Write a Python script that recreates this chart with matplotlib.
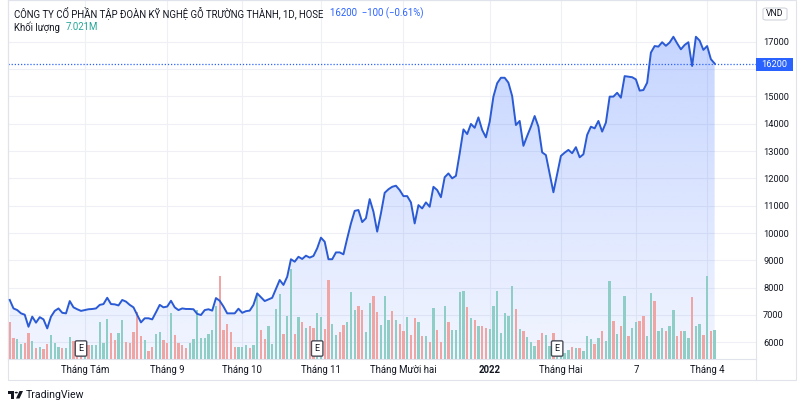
import numpy as np
import matplotlib.pyplot as plt
from matplotlib.patches import Rectangle, FancyBboxPatch, Polygon, Circle
from matplotlib.transforms import blended_transform_factory

plt.rcParams['font.family'] = ['Roboto', 'DejaVu Sans']

W, H = 800, 408

# giá đóng cửa hằng ngày (VND)
price = [
    7550, 7240, 7180, 7060, 7010, 6570, 6940, 6720, 6920, 6840,
    6510, 6940, 7150, 7240, 7080, 7060, 7510, 7280, 7210, 7150,
    7180, 7210, 7220, 7240, 7370, 7400, 7630, 7400, 7390, 7350,
    7550, 7490, 7370, 7280, 7000, 6730, 6880, 6880, 6840, 7100,
    7370, 7280, 7310, 7520, 7280, 7180, 7240, 7220, 7220, 7210,
    7040, 7000, 7180, 7210, 7160, 7620, 7520, 7310, 7060, 7060,
    7060, 7230, 7080, 7140, 7160,
    7370, 7790, 7650, 7510, 7570, 7630, 7950, 8280, 8100, 8400,
    9040, 8950, 9130, 9050, 9170, 9100, 9160, 9440, 9830, 9680,
    9040, 9040, 9290, 9290, 9220, 9800, 10350, 10810, 10840, 10400,
    10540, 11240, 10780, 10050, 10720, 11470, 11600, 11690, 11730, 11570,
    11350, 11350, 11120, 10350, 11020, 10900, 11120, 10960, 11690, 11570,
    11310, 12040, 12180, 12000, 12090, 12910, 13790, 13620, 13990, 13850,
    14230, 13770, 13500, 14070,
    14990, 15480, 15680, 15680, 15500, 15010, 13950, 14100, 13190, 13550,
    13890, 14280, 13890, 12950, 12850, 12180, 11490, 12160, 12820, 12940,
    13040, 12920, 13140, 12770, 12880, 13590, 13890, 13830, 14100, 13710,
    14040, 14990, 14990, 15130, 14950, 15740, 15720, 15700, 15620, 15210,
    15230, 15500, 16600, 16840, 16820, 16980, 16850, 16970, 17180, 16940,
    16720, 16880, 16980, 16110, 17180, 17040, 16700, 16840, 16360, 16200,
]

# khối lượng (triệu cổ phiếu)
volume = [
    8.9, 5.0, 4.8, 3.6, 3.8, 6.2, 4.3, 2.6, 2.9, 2.4,
    3.6, 5.8, 3.8, 2.9, 2.6, 2.6, 5.3, 4.3, 3.8, 2.9,
    2.9, 3.4, 3.4, 3.4, 8.9, 3.8, 9.6, 6.2, 4.6, 6.2,
    9.4, 4.1, 3.8, 6.5, 11.3, 5.5, 4.6, 1.9, 2.9, 6.0,
    6.5, 4.6, 3.8, 11.0, 5.8, 3.8, 3.4, 2.6, 3.8, 4.8,
    11.8, 5.0, 5.0, 6.0, 7.0, 12.7, 19.9, 7.0, 8.4, 6.5,
    2.9, 2.9, 2.9, 3.4, 2.6,
    3.4, 15.8, 7.0, 4.8, 7.9, 3.6, 12.0, 15.6, 6.0, 10.3,
    21.6, 6.0, 10.1, 8.9, 7.4, 7.9, 7.4, 11.0, 10.1, 7.2,
    19.0, 8.4, 5.8, 6.5, 8.2, 8.9, 16.1, 11.8, 12.7, 11.8,
    6.5, 13.4, 15.1, 11.3, 8.2, 15.1, 9.4, 11.5, 9.4, 8.4,
    6.7, 10.1, 5.8, 9.8, 8.9, 5.5, 5.5, 4.1, 12.2, 7.0,
    4.1, 12.7, 8.9, 7.0, 7.0, 16.1, 16.3, 12.5, 9.8, 9.4,
    7.9, 7.9, 7.4, 7.2,
    12.7, 16.3, 6.2, 11.0, 10.3, 17.5, 12.0, 7.2, 6.7, 5.3,
    4.1, 3.1, 4.6, 6.2, 5.8, 3.1, 6.2, 2.2, 1.0, 1.4,
    2.2, 2.9, 2.6, 2.6, 1.9, 5.5, 4.8, 3.6, 5.0, 6.7,
    4.3, 18.7, 9.1, 6.0, 7.9, 15.1, 5.5, 7.4, 8.9, 9.1,
    10.3, 5.5, 15.8, 13.9, 6.7, 7.4, 6.7, 7.9, 11.8, 5.5,
    6.7, 6.7, 5.0, 14.9, 7.9, 8.4, 5.8, 19.9, 6.7, 7.02,
]

# g = phiên tăng, r = phiên giảm
vol_dir = (
    "rrggrrgrgr" "rgggrggrrr" "grgggggrrg" "grrrrrgrrg" "grrgrrrrgg"
    "ggggggrrrr" "rgggr"
    "ggrrggggrg" "grgrgrrggr" "rggrrgggrr" "ggrrgggrgr" "rgrrgrgrgr"
    "rgrggggrgr" "grrg"
    "ggggggrgrg" "ggrrggrggg" "grgrgggrgr" "ggrgrgrggr" "rggrggrggr"
    "rggrggrgrg"
)

tick_idx = [20, 42, 62, 83, 105, 128, 147, 167, 186]
tick_labels = ['Tháng Tám', 'Tháng 9', 'Tháng 10', 'Tháng 11', 'Tháng Mười hai',
               '2022', 'Tháng Hai', '7', 'Tháng 4']
price_ticks = [6000, 7000, 8000, 9000, 10000, 11000, 12000,
               13000, 14000, 15000, 16000, 17000]
earnings_idx = [19, 82, 146]
last_price = 16200
last_volume = '7.021M'


def fx(px):
    return px / W


def fy(py):
    return 1 - py / H


fig = plt.figure(figsize=(W / 100, H / 100), dpi=100)
fig.patch.set_facecolor('white')

rect = [fx(7.5), fy(359), fx(755.5) - fx(7.5), 359 / H]
ax = fig.add_axes(rect, zorder=1)
axv = fig.add_axes(rect, zorder=2)
axv.patch.set_visible(False)

x = np.arange(len(price))
xlim = (-0.6, 198.9)
ylim = (5390, 18525)

# vùng tô gradient dưới đường giá
poly = ax.fill_between(x, price, ylim[0], color='none', lw=0)
grad = np.zeros((256, 1, 4))
grad[..., 0] = 41 / 255
grad[..., 1] = 98 / 255
grad[..., 2] = 1.0
grad[:, 0, 3] = np.linspace(0.27, 0.06, 256)
img = ax.imshow(grad, extent=[x[0], x[-1], ylim[0], max(price)],
                aspect='auto', origin='upper', zorder=1, interpolation='bilinear')
img.set_clip_path(poly.get_paths()[0], transform=ax.transData)

ax.axhline(last_price, color='#2962ff', lw=0.9, ls=(0, (1, 1.5)), zorder=3)

ax.set_xlim(*xlim)
ax.set_ylim(*ylim)
ax.set_xticks(tick_idx)
ax.set_xticklabels(tick_labels)
ax.set_yticks(price_ticks)
# nhãn 16000 bị ô giá cuối che khuất
ax.set_yticklabels(['' if abs(p - last_price) < 500 else str(p) for p in price_ticks])
ax.yaxis.tick_right()
ax.tick_params(axis='y', length=0, pad=5.5, labelsize=6.7, labelcolor='#131722')
ax.tick_params(axis='x', length=0, pad=4, labelsize=6.9, labelcolor='#131722')
ax.get_xticklabels()[5].set_fontweight('bold')
ax.grid(True, color='#eef0f5', lw=0.8)
ax.set_axisbelow(True)
for s in ax.spines.values():
    s.set_color('#e0e3eb')
    s.set_linewidth(0.8)

# khối lượng
colors = ['#8ecec6' if d == 'g' else '#eea5a4' for d in vol_dir]
axv.bar(x, volume, width=0.62, color=colors, zorder=2)
axv.plot(x, price, color='#2a5ad4', lw=1.4, transform=ax.transData, zorder=4,
         solid_joinstyle='round')
axv.set_xlim(*xlim)
axv.set_ylim(0, 86)
axv.axis('off')

tr = blended_transform_factory(ax.transData, ax.transAxes)
for i in earnings_idx:
    axv.text(i, 10.5 / 359, 'E', transform=tr, ha='center', va='center',
             fontsize=6.5, color='#131722', zorder=6,
             bbox=dict(boxstyle='round,pad=0.35,rounding_size=0.15', fc='white',
                       ec='#4a4d57', lw=1))

# khung tiện ích
fig.patches.append(Rectangle((fx(7.5), fy(380)), fx(795.5) - fx(7.5), 380 / H,
                             transform=fig.transFigure, fill=False,
                             ec='#e0e3eb', lw=0.8))
fig.lines.append(plt.Line2D([fx(755.5), fx(755.5)], [fy(359), fy(380)],
                            transform=fig.transFigure, color='#e0e3eb', lw=0.8))

# nhãn giá cuối
fig.patches.append(Rectangle((fx(755.5), fy(71)), fx(793) - fx(755.5), 13.5 / H,
                             transform=fig.transFigure, fc='#2962ff', ec='none'))
fig.text(fx(774), fy(64.5), str(last_price), color='white', fontsize=6.7,
         ha='center', va='center')

# nhãn đơn vị
fig.patches.append(FancyBboxPatch((fx(763), fy(20)), fx(787) - fx(763), 12 / H,
                                  boxstyle='round,pad=0,rounding_size=0.004',
                                  transform=fig.transFigure, fc='white',
                                  ec='#d1d4dc', lw=0.8))
fig.text(fx(775), fy(14), 'VND', color='#131722', fontsize=6.2,
         ha='center', va='center')

# tiêu đề
fig.text(fx(14), fy(13), 'CÔNG TY CỔ PHẦN TẬP ĐOÀN KỸ NGHỆ GỖ TRƯỜNG THÀNH, 1D, HOSE',
         color='#131722', fontsize=6.9, va='center')
fig.text(fx(330), fy(13), '16200  −100 (−0.61%)', color='#2962ff', fontsize=6.9,
         va='center')
fig.text(fx(14), fy(27), 'Khối lượng', color='#131722', fontsize=6.9, va='center')
fig.text(fx(66), fy(27), last_volume, color='#26a69a', fontsize=6.9, va='center')

# logo TradingView
logo = '#131722'
fig.patches.append(Polygon([(fx(8.3), fy(391)), (fx(14), fy(391)), (fx(14), fy(398.5)),
                            (fx(11.3), fy(398.5)), (fx(11.3), fy(394)), (fx(8.3), fy(394))],
                           closed=True, transform=fig.transFigure, fc=logo, ec='none'))
fig.patches.append(Circle((fx(16.3), fy(392.6)), 1.6 / W, transform=fig.transFigure,
                          fc=logo, ec='none'))
fig.patches.append(Polygon([(fx(19.5), fy(391)), (fx(23), fy(391)), (fx(19.5), fy(398.5)),
                            (fx(16), fy(398.5))],
                           closed=True, transform=fig.transFigure, fc=logo, ec='none'))
fig.text(fx(26), fy(395), 'TradingView', color='#131722', fontsize=7.6, va='center')

fig.savefig('out.png', dpi=100, facecolor='white')
